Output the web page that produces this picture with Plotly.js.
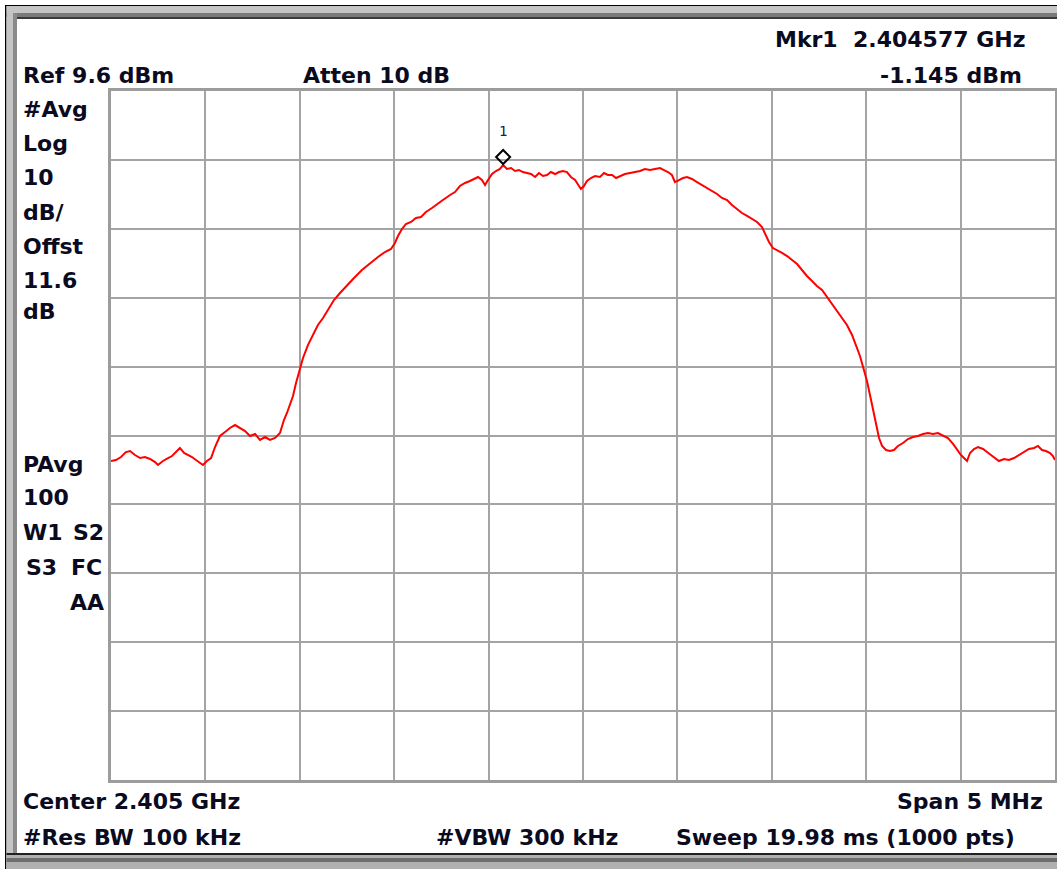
<!DOCTYPE html>
<html>
<head>
<meta charset="utf-8">
<script src="https://cdn.plot.ly/plotly-3.0.1.min.js"></script>
<style>html,body{margin:0;padding:0;background:#fff;}#chart{width:1057px;height:869px;}</style>
</head>
<body>
<div id="chart"></div>
<script>
// Frequency in MHz, level in dBm
const freqMHz = [
2402.500,2402.526,2402.553,2402.579,2402.601,2402.627,2402.654,2402.680,2402.707,2402.733,
2402.749,2402.775,2402.802,2402.823,2402.844,2402.865,2402.887,2402.908,2402.929,2402.950,
2402.971,2402.987,2403.008,2403.030,2403.051,2403.077,2403.104,2403.130,2403.157,2403.183,
2403.210,2403.236,2403.263,2403.289,2403.316,2403.342,2403.369,2403.395,2403.416,2403.432,
2403.448,2403.464,2403.480,2403.496,2403.517,2403.543,2403.570,2403.596,2403.623,2403.649,
2403.681,2403.713,2403.750,2403.787,2403.829,2403.872,2403.914,2403.951,2403.983,2404.004,
2404.020,2404.041,2404.062,2404.089,2404.115,2404.142,2404.168,2404.200,2404.232,2404.258,
2404.296,2404.322,2404.348,2404.375,2404.401,2404.428,2404.444,2404.465,2404.481,2404.497,
2404.518,2404.539,2404.560,2404.577,2404.597,2404.619,2404.640,2404.661,2404.682,2404.703,
2404.725,2404.746,2404.767,2404.788,2404.809,2404.830,2404.852,2404.873,2404.894,2404.915,
2404.936,2404.958,2404.973,2404.989,2405.005,2405.021,2405.042,2405.064,2405.090,2405.111,
2405.132,2405.154,2405.175,2405.196,2405.222,2405.249,2405.275,2405.302,2405.328,2405.355,
2405.381,2405.408,2405.429,2405.450,2405.471,2405.487,2405.508,2405.530,2405.551,2405.577,
2405.604,2405.630,2405.657,2405.683,2405.710,2405.736,2405.763,2405.789,2405.816,2405.842,
2405.869,2405.895,2405.922,2405.948,2405.964,2405.985,2406.006,2406.028,2406.054,2406.081,
2406.107,2406.134,2406.160,2406.186,2406.213,2406.239,2406.266,2406.292,2406.319,2406.345,
2406.372,2406.398,2406.425,2406.446,2406.467,2406.488,2406.504,2406.520,2406.536,2406.552,
2406.568,2406.584,2406.605,2406.626,2406.647,2406.668,2406.695,2406.721,2406.748,2406.774,
2406.801,2406.827,2406.854,2406.880,2406.907,2406.933,2406.960,2406.981,2407.002,2407.018,
2407.034,2407.050,2407.071,2407.092,2407.119,2407.140,2407.161,2407.182,2407.203,2407.230,
2407.256,2407.283,2407.309,2407.336,2407.362,2407.389,2407.410,2407.431,2407.452,2407.474,
2407.489,2407.500
];
const levelDbm = [
-44.10,-43.96,-43.52,-42.80,-42.65,-43.23,-43.67,-43.52,-43.81,-44.25,
-44.68,-44.10,-43.67,-43.38,-42.80,-42.21,-42.94,-43.23,-43.52,-43.96,
-44.39,-44.68,-44.10,-43.67,-42.07,-40.47,-39.89,-39.31,-38.88,-39.31,
-39.75,-40.47,-40.18,-41.05,-40.62,-41.05,-40.76,-40.04,-38.15,-37.13,
-35.83,-34.67,-32.78,-31.18,-29.15,-27.27,-25.81,-24.36,-23.35,-22.19,
-20.73,-19.72,-18.56,-17.54,-16.38,-15.36,-14.49,-13.77,-13.33,-12.46,
-11.45,-10.43,-9.70,-9.41,-8.83,-8.69,-7.96,-7.38,-6.80,-6.22,
-5.49,-5.06,-4.19,-3.75,-3.46,-3.03,-2.88,-3.32,-4.04,-3.32,
-2.45,-2.01,-1.72,-1.145,-1.72,-1.58,-2.01,-1.87,-2.16,-2.30,
-2.45,-2.88,-2.30,-2.74,-2.59,-2.16,-2.45,-2.16,-2.01,-2.16,
-2.88,-3.32,-3.90,-4.62,-4.19,-3.46,-3.03,-2.74,-2.88,-2.30,
-2.59,-2.59,-3.03,-2.74,-2.45,-2.30,-2.16,-2.01,-1.72,-1.87,
-1.72,-1.58,-1.87,-2.16,-2.59,-3.61,-3.32,-3.03,-2.88,-3.17,
-3.61,-4.04,-4.48,-4.91,-5.35,-5.93,-6.22,-6.95,-7.53,-8.11,
-8.54,-8.98,-9.41,-10.14,-11.01,-12.32,-13.19,-13.48,-13.91,-14.35,
-14.93,-15.51,-16.38,-17.25,-17.98,-18.70,-19.28,-20.30,-21.31,-22.33,
-23.35,-24.36,-25.81,-27.27,-28.86,-30.89,-32.49,-34.52,-36.70,-38.88,
-40.76,-41.92,-42.51,-42.65,-42.51,-41.92,-41.49,-40.91,-40.62,-40.47,
-40.18,-40.04,-40.18,-40.04,-40.47,-40.76,-41.63,-42.51,-43.23,-43.67,
-44.10,-42.94,-42.36,-42.07,-42.36,-42.80,-43.23,-43.67,-44.10,-43.81,
-43.96,-43.67,-43.23,-42.80,-42.36,-42.21,-41.92,-42.51,-42.65,-42.94,
-43.38,-43.96
];
const centerMHz = 2405;
const spanMHz = 5;
const refLevel = 9.6;
const dbPerDiv = 10;
const markerFreqMHz = 2404.577;
const markerLevel = -1.145;

const topLabels = ["Ref 9.6 dBm", "Atten 10 dB", "Mkr1  2.404577 GHz", "-1.145 dBm"];
const leftLabels1 = ["#Avg", "Log", "10", "dB/", "Offst", "11.6", "dB"];
const leftLabels2 = ["PAvg", "100"];
const bottomLabels = ["Center 2.405 GHz", "Span 5 MHz", "#Res BW 100 kHz", "#VBW 300 kHz", "Sweep 19.98 ms (1000 pts)"];

// ---- layout geometry helpers (pixels -> paper) ----
const W = 1057, H = 869, L = 111, R = 1055, T = 91, B = 780;
const PX = x => (x - L) / (R - L);
const PY = y => (B - y) / (B - T);

const FONT = {family: "DejaVu Sans, Arial, sans-serif", size: 22, color: "#0a0a20", weight: "bold"};
function lab(text, x, y, anchor) {
  return {text: text, xref: "paper", yref: "paper", x: PX(x), y: PY(y),
          xanchor: anchor || "left", yanchor: "middle", showarrow: false, font: FONT};
}
const ann = [];
ann.push(lab(topLabels[0], 21, 75));
ann.push(lab(topLabels[1], 301, 75));
ann.push(lab(topLabels[2], 1027, 39, "right"));
ann.push(lab(topLabels[3], 1024, 75, "right"));
const ys1 = [109, 143, 177, 212, 247, 280, 311];
leftLabels1.forEach((t, i) => ann.push(lab(t, 21, ys1[i])));
ann.push(lab(leftLabels2[0], 21, 464));
ann.push(lab(leftLabels2[1], 21, 498));
ann.push(lab("W1", 21, 532));
ann.push(lab("S2", 71, 532));
ann.push(lab("S3", 24, 567));
ann.push(lab("FC", 69, 567));
ann.push(lab("AA", 106, 602, "right"));
ann.push(lab(bottomLabels[0], 21, 802));
ann.push(lab(bottomLabels[1], 1045, 802, "right"));
ann.push(lab(bottomLabels[2], 21, 837));
ann.push(lab(bottomLabels[3], 434, 837));
ann.push(lab(bottomLabels[4], 674, 837));
// marker number
ann.push({text: "1", x: markerFreqMHz, y: markerLevel, xref: "x", yref: "y", yshift: 34, showarrow: false,
          font: {family: "DejaVu Sans Mono, monospace", size: 14, color: "#202040"}});

function rect(x0, y0, x1, y1, color) {
  return {type: "rect", xref: "paper", yref: "paper", x0: PX(x0), x1: PX(x1), y0: PY(y0), y1: PY(y1),
          fillcolor: color, line: {width: 0}, layer: "above"};
}
const shapes = [
  // top frame
  rect(5, 5, W, 6, "#000000"),
  rect(6, 6, W, 13, "#c4c4c4"),
  rect(6, 13, W, 17, "#7a7a7a"),
  rect(17, 17, W, 19, "#3a3a3a"),
  // left frame
  rect(5, 5, 6.5, H, "#000000"),
  rect(6.5, 6, 13, H, "#c4c4c4"),
  rect(13, 13, 17, H, "#8a8a8a"),
  // bottom frame
  rect(6.5, 853, W, 855, "#202020"),
  rect(6.5, 855, W, H, "#b0b0b0"),
  rect(6.5, 858, W, 862, "#6e6e6e"),
  // marker diamond (pixel sized, anchored at marker)
  {type: "path", xref: "x", yref: "y", xsizemode: "pixel", ysizemode: "pixel",
   xanchor: markerFreqMHz, yanchor: markerLevel,
   path: "M0,1 L7,8 L0,15 L-7,8 Z", line: {color: "#000000", width: 2}, fillcolor: "rgba(0,0,0,0)", layer: "above"}
];

const trace = {x: freqMHz, y: levelDbm, type: "scatter", mode: "lines",
               line: {color: "#ff0000", width: 2}, hoverinfo: "skip"};

const layout = {
  width: W, height: H,
  margin: {l: L, r: W - R, t: T, b: H - B, pad: 0},
  paper_bgcolor: "#ffffff", plot_bgcolor: "#ffffff",
  showlegend: false,
  xaxis: {range: [centerMHz - spanMHz / 2, centerMHz + spanMHz / 2], tick0: centerMHz - spanMHz / 2, dtick: spanMHz / 10,
          showticklabels: false, ticks: "", showgrid: true, gridcolor: "#a4a4a4", gridwidth: 2,
          zeroline: false, showline: true, mirror: true, linecolor: "#9c9c9c", linewidth: 3, fixedrange: true},
  yaxis: {range: [refLevel - 10 * dbPerDiv, refLevel], tick0: refLevel, dtick: dbPerDiv,
          showticklabels: false, ticks: "", showgrid: true, gridcolor: "#a4a4a4", gridwidth: 2,
          zeroline: false, showline: true, mirror: true, linecolor: "#9c9c9c", linewidth: 3, fixedrange: true},
  annotations: ann,
  shapes: shapes
};
Plotly.newPlot("chart", [trace], layout, {displayModeBar: false, staticPlot: true});
</script>
</body>
</html>
